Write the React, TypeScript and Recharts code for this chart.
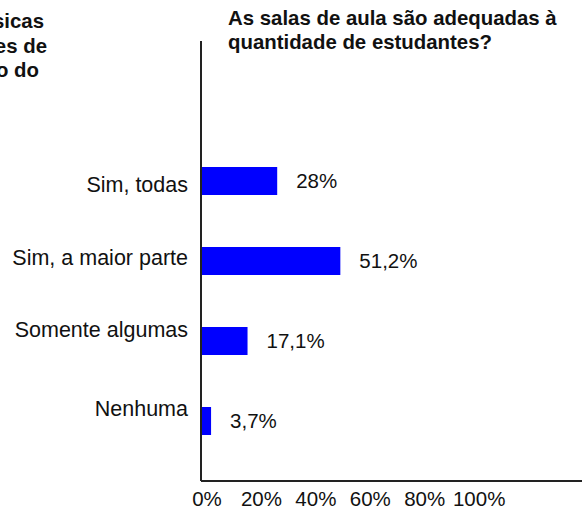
import React from "react";
import { BarChart, Bar, XAxis, YAxis, LabelList } from "recharts";

const categories = ["Sim, todas", "Sim, a maior parte", "Somente algumas", "Nenhuma"];
const values = [28, 51.2, 17.1, 3.7];
const xTicks = [0, 20, 40, 60, 80, 100];
const titleLines = ["As salas de aula são adequadas à", "quantidade de estudantes?"];
const cutTextLines = ["físicas", "instalações de", "funcionamento do"];

const data = categories.map((label, i) => ({ label, value: values[i] }));

const FONT = "'Liberation Sans', Arial, Helvetica, sans-serif";

const fmtPct = (v: any) => `${String(v).replace(".", ",")}%`;

// small vertical nudges of the category labels, as in the reference
const labelNudge = [3.5, -3.5, -12, -12.5];

const CategoryTick = (props: any) => {
  const { x, y, payload, index } = props;
  const nudge = labelNudge[index] ?? 0;
  return (
    <text
      x={x}
      y={y + nudge}
      dy="0.355em"
      textAnchor="end"
      fontSize={21.5}
      fill="#111"
      fontFamily={FONT}
    >
      {payload.value}
    </text>
  );
};

export default function App() {
  const cutRight = [44, 47, 39];
  const cutBaseline = [28, 53, 77];
  return (
    <div style={{ position: "absolute", left: 0, top: 0, width: 582, height: 510, background: "#fff", overflow: "hidden", fontFamily: FONT }}>
      <BarChart
        width={582}
        height={510}
        layout="vertical"
        data={data}
        margin={{ top: 41, right: 0, bottom: 0, left: 0 }}
      >
        <XAxis
          type="number"
          domain={[0, 140]}
          ticks={xTicks}
          allowDataOverflow
          height={29}
          axisLine={{ stroke: "#222", strokeWidth: 2 }}
          tickLine={false}
          tickSize={0}
          tickMargin={10}
          tickFormatter={(v: number) => `${v}%`}
          tick={{ fontSize: 20.5, fill: "#111", dx: 6, fontFamily: FONT }}
        />
        <YAxis
          type="category"
          dataKey="label"
          width={201}
          padding={{ top: 100, bottom: 20 }}
          axisLine={{ stroke: "#222", strokeWidth: 2 }}
          tickLine={false}
          tickSize={0}
          tickMargin={13}
          tick={<CategoryTick />}
        />
        <Bar dataKey="value" fill="#0000FF" barSize={28} isAnimationActive={false}>
          <LabelList
            dataKey="value"
            position="right"
            offset={19}
            formatter={fmtPct}
            style={{ fontSize: 20.5, fill: "#111", fontFamily: FONT }}
          />
        </Bar>
      </BarChart>
      <svg width={582} height={510} style={{ position: "absolute", left: 0, top: 0, pointerEvents: "none" }}>
        {titleLines.map((t, i) => (
          <text key={t} x={228} y={25 + i * 24} fontSize={20.4} fontWeight="bold" fill="#111" fontFamily={FONT}>
            {t}
          </text>
        ))}
        {cutTextLines.map((t, i) => (
          <text key={t} x={cutRight[i]} y={cutBaseline[i]} fontSize={20.4} fontWeight="bold" fill="#111" textAnchor="end" fontFamily={FONT}>
            {t}
          </text>
        ))}
      </svg>
    </div>
  );
}
